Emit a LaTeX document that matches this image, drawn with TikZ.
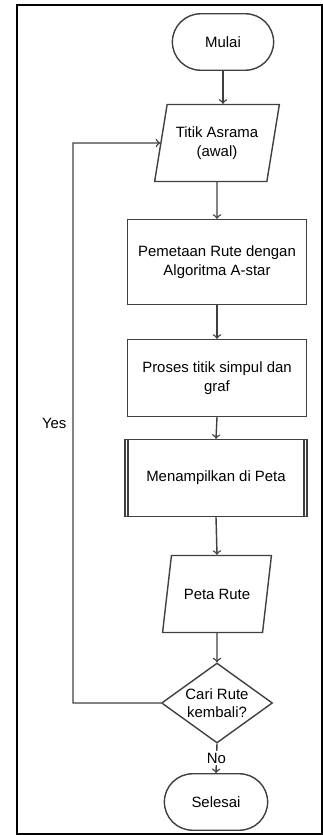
\documentclass[tikz,border=0pt]{standalone}
\usepackage{fontspec}
\setmainfont{Liberation Sans}
\usetikzlibrary{shapes.geometric,shapes.misc}

\begin{document}
\begin{tikzpicture}[x=0.02cm, y=-0.02cm, font=\fontsize{8.5}{10.5}\selectfont,
    terminal/.style={rounded rectangle, draw=black!75, thick, minimum width=2.26cm, minimum height=1.13cm},
    datain/.style={trapezium, trapezium stretches=true, draw=black!75, thick, align=center, minimum height=1.54cm},
    proses/.style={rectangle, draw=black!75, thick, align=center, minimum width=3.58cm, minimum height=1.7cm},
    keputusan/.style={diamond, draw=black!75, thick, aspect=1.4, inner sep=0pt, align=center, minimum width=2.22cm, minimum height=1.6cm},
    panah/.style={->, draw=black!75, thick}]
    % Bingkai luar
    \useasboundingbox (0,0) rectangle (323,835);
    \draw[thick] (17,5) rectangle (322,834);

    % Simbol flowchart
    \node[terminal] (mulai) at (223,42) {Mulai};
    \node[datain, trapezium left angle=75, trapezium right angle=105, minimum width=2.5cm] (titik) at (217,143) {Titik Asrama\\(awal)};
    \node[proses] (rute) at (217,262) {Pemetaan Rute dengan\\Algoritma A-star};
    \node[proses, minimum height=1.54cm] (simpul) at (217,378) {Proses titik simpul dan\\graf};
    \node[proses, minimum width=3.64cm, minimum height=1.54cm] (tampil) at (216,478) {Menampilkan di Peta};
    \draw[thick, black!75] ([xshift=0.07cm]tampil.north west) -- ([xshift=0.07cm]tampil.south west);
    \draw[thick, black!75] ([xshift=-0.07cm]tampil.north east) -- ([xshift=-0.07cm]tampil.south east);
    \node[datain, trapezium left angle=71, trapezium right angle=109, minimum width=2.18cm] (peta) at (217,594) {Peta Rute};
    \node[keputusan] (cari) at (217,703) {Cari Rute\\kembali?};
    \node[terminal, minimum width=2.3cm] (selesai) at (216,802) {Selesai};

    % Alur utama
    \draw[panah] (mulai.south) -- (mulai.south |- titik.north);  % Mulai -> Titik
    \draw[panah] (titik.south) -- (rute.north);  % Titik -> Pemetaan
    \draw[panah] (rute.south) -- (simpul.north);  % Pemetaan -> Proses
    \draw[panah] (simpul.south) -- (tampil.north);  % Proses -> Menampilkan
    \draw[panah] (tampil.south) -- (peta.north);  % Menampilkan -> Peta
    \draw[panah] (peta.south) -- (cari.north);  % Peta -> Cari
    \draw[panah] (cari.south) -- node[fill=white, inner sep=1pt] {No} (selesai.north);  % Cari -> Selesai

    % Kembali ke titik awal
    \coordinate (belok) at (73,143);
    \draw[panah] (cari.west) -| node[pos=0.75, left] {Yes} (belok) -- (titik.west);  % Cari -> Titik
\end{tikzpicture}
\end{document}
